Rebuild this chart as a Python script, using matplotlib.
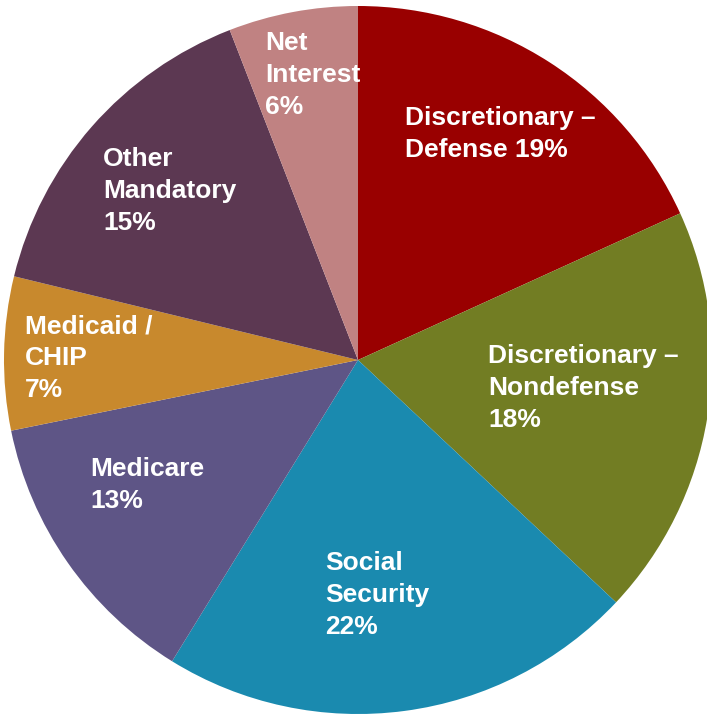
import matplotlib.pyplot as plt

# share of spending
categories = ["Discretionary – Defense", "Discretionary – Nondefense", "Social Security",
              "Medicare", "Medicaid / CHIP", "Other Mandatory", "Net Interest"]
shares = [18.2, 18.8, 21.8, 13.0, 7.0, 15.3, 5.9]
labels = ["Discretionary –\nDefense 19%",
          "Discretionary –\nNondefense\n18%",
          "Social\nSecurity\n22%",
          "Medicare\n13%",
          "Medicaid /\nCHIP\n7%",
          "Other\nMandatory\n15%",
          "Net\nInterest\n6%"]
colors = ["#990000", "#727D23", "#1A8AAF", "#5E5586", "#C8892D", "#5C3852", "#C08282"]

# label anchor (left, top) in pixels of the original picture
label_px = [(405, 106), (488, 344), (325, 551), (90, 457), (25, 314), (103, 147), (265, 31)]

W, H = 707, 716
cx, cy, r = 358, 360, 354

fig = plt.figure(figsize=(W / 100, H / 100), dpi=100)
ax = fig.add_axes([0, 0, 1, 1])
ax.pie(shares, colors=colors, startangle=90, counterclock=False, radius=1,
       wedgeprops=dict(linewidth=0))
ax.set_xlim(-cx / r, (W - cx) / r)
ax.set_ylim(-(H - cy) / r, cy / r)
ax.set_aspect("auto")
ax.axis("off")

for txt, (px, py) in zip(labels, label_px):
    ax.text((px - cx) / r, (cy - py) / r, txt, ha="left", va="top",
            color="white", fontsize=19, fontweight="bold",
            family="Liberation Sans", linespacing=1.42)

fig.savefig("out.png", dpi=100)
